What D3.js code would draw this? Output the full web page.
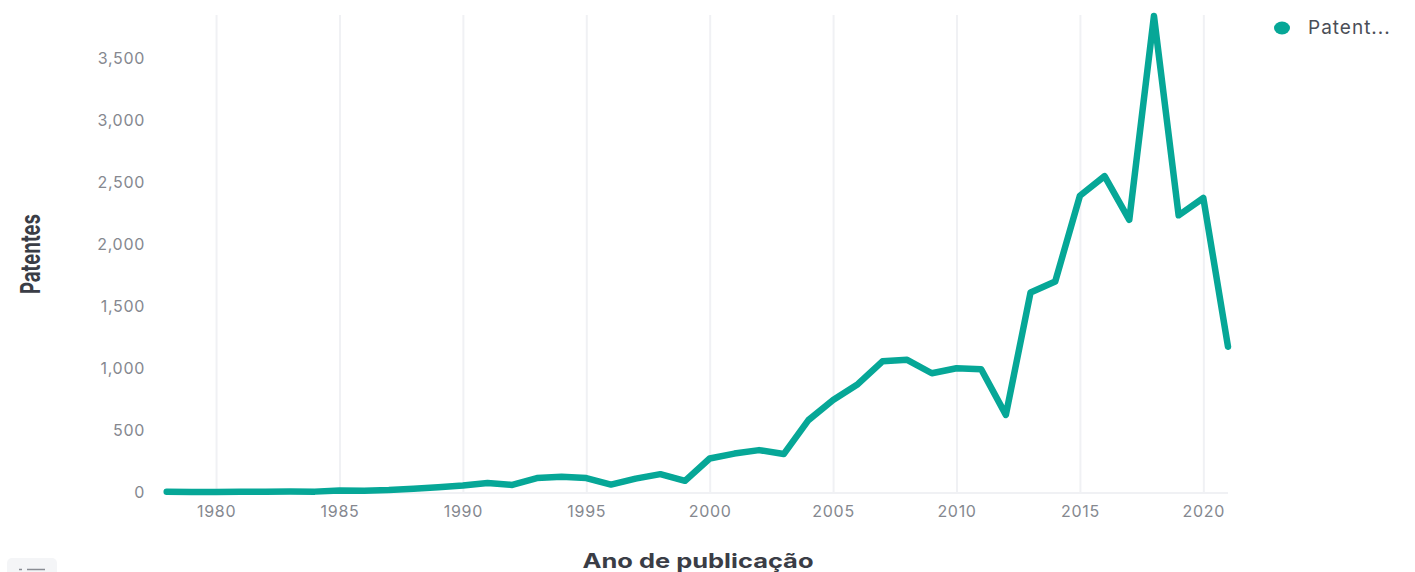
<!DOCTYPE html>
<html>
<head>
<meta charset="utf-8">
<script src="https://cdn.jsdelivr.net/npm/d3@7/dist/d3.min.js"></script>
<style>
  html, body { margin: 0; padding: 0; background: #ffffff; }
  svg { display: block; font-family: Inter, "Open Sans", sans-serif; }
</style>
</head>
<body>
<svg id="chart" width="1415" height="572"></svg>
<script>
const years = [1978,1979,1980,1981,1982,1983,1984,1985,1986,1987,1988,1989,1990,1991,1992,1993,1994,1995,1996,1997,1998,1999,2000,2001,2002,2003,2004,2005,2006,2007,2008,2009,2010,2011,2012,2013,2014,2015,2016,2017,2018,2019,2020,2021];
const patentes = [2,1,1,2,2,4,3,13,11,16,26,38,52,72,57,112,123,112,60,108,144,90,270,310,338,306,580,742,870,1054,1066,958,998,990,622,1610,1698,2390,2548,2196,3840,2232,2372,1172];
const yTicks = [0,500,1000,1500,2000,2500,3000,3500];
const xTicks = [1980,1985,1990,1995,2000,2005,2010,2015,2020];
const seriesName = "Patent...";
const xTitle = "Ano de publicação";
const yTitle = "Patentes";

const svg = d3.select("#chart");
const mLeft = 166.7, mRight = 1228, mTop = 16, mBottom = 492;

const x = d3.scaleLinear().domain([d3.min(years), d3.max(years)]).range([mLeft, mRight]);
const y = d3.scaleLinear().domain([0, d3.max(patentes)]).range([mBottom, mTop]);

// vertical gridlines
const gx = svg.append("g")
  .attr("transform", `translate(0,${mBottom})`)
  .call(d3.axisBottom(x).tickValues(xTicks).tickFormat(d3.format("d")).tickSize(-(mBottom - 15)).tickPadding(14));
gx.select(".domain").remove();
gx.selectAll(".tick line").attr("stroke", "#f0f1f4").attr("stroke-width", 2);
gx.selectAll(".tick text").attr("fill", "#85888f").attr("font-size", 16).attr("letter-spacing", 0.7)
  .attr("font-family", "Inter, sans-serif");

// baseline
svg.append("line").attr("x1", mLeft).attr("x2", mRight).attr("y1", mBottom + 1).attr("y2", mBottom + 1)
  .attr("stroke", "#f0f1f4").attr("stroke-width", 2);

// y axis
const gy = svg.append("g")
  .attr("transform", `translate(145,0)`)
  .call(d3.axisLeft(y).tickValues(yTicks).tickFormat(d3.format(",")).tickSize(0).tickPadding(0));
gy.select(".domain").remove();
gy.selectAll(".tick text").attr("fill", "#85888f").attr("font-size", 16).attr("letter-spacing", 0.7)
  .attr("font-family", "Inter, sans-serif");

// line
const line = d3.line().x((d, i) => x(years[i])).y(d => y(d));
svg.append("path").datum(patentes)
  .attr("d", line)
  .attr("fill", "none")
  .attr("stroke", "#06a797")
  .attr("stroke-width", 6.5)
  .attr("stroke-linejoin", "round")
  .attr("stroke-linecap", "round");

// axis titles
svg.append("text").attr("x", 698).attr("y", 568).attr("text-anchor", "middle")
  .attr("font-size", 20).attr("font-weight", 700).attr("fill", "#3a3d46")
  .attr("textLength", 231).attr("lengthAdjust", "spacingAndGlyphs")
  .text(xTitle);

svg.append("text").attr("transform", "translate(40,254) rotate(-90)").attr("text-anchor", "middle")
  .attr("font-size", 27).attr("font-weight", 700).attr("fill", "#3a3d46")
  .attr("textLength", 80).attr("lengthAdjust", "spacingAndGlyphs")
  .text(yTitle);

// legend
svg.append("ellipse").attr("cx", 1282).attr("cy", 28).attr("rx", 8).attr("ry", 6.5).attr("fill", "#06a797");
svg.append("text").attr("x", 1308).attr("y", 34).attr("font-size", 19).attr("fill", "#4b4e57")
  .attr("letter-spacing", 1)
  .text(seriesName);

// bottom-left control
svg.append("rect").attr("x", 7).attr("y", 558).attr("width", 50).attr("height", 24).attr("rx", 5).attr("fill", "#f4f5f7");
svg.append("line").attr("x1", 19).attr("x2", 22).attr("y1", 569.5).attr("y2", 569.5).attr("stroke", "#8a8d94").attr("stroke-width", 1.5);
svg.append("line").attr("x1", 27).attr("x2", 45).attr("y1", 569.5).attr("y2", 569.5).attr("stroke", "#8a8d94").attr("stroke-width", 1.5);
</script>
</body>
</html>
